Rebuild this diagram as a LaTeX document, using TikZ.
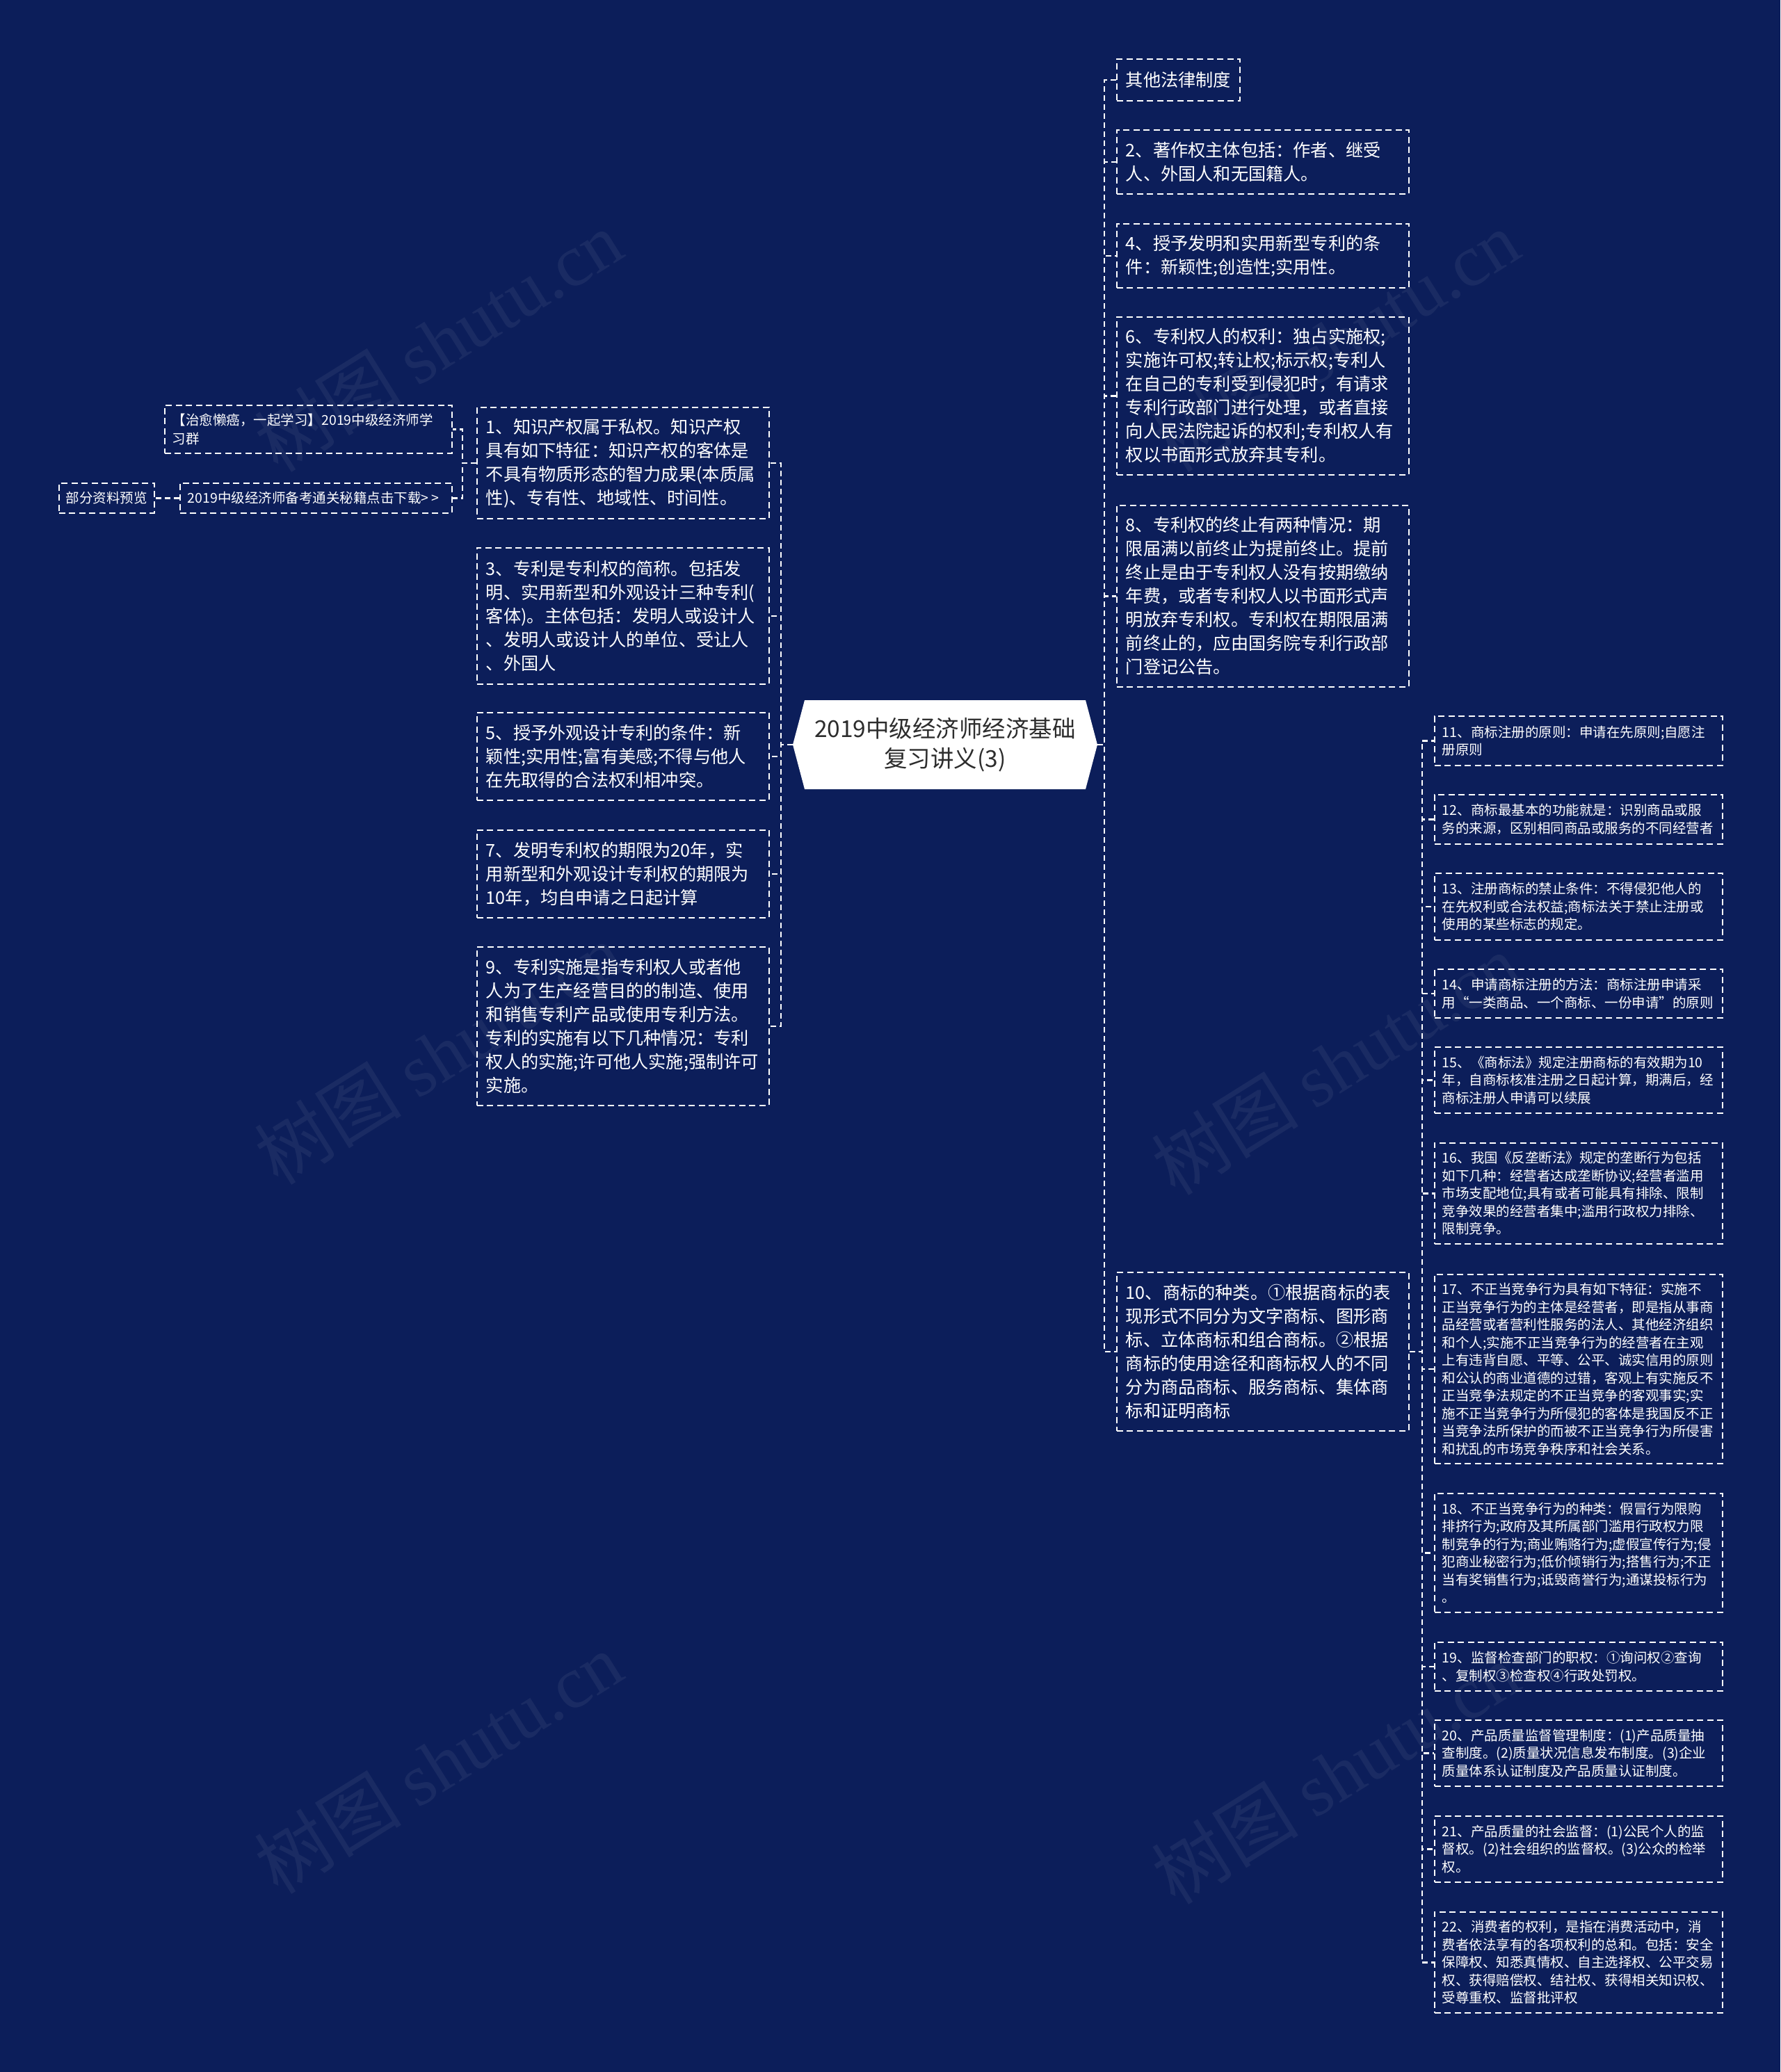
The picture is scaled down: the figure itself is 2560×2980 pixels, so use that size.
\documentclass[tikz,border=0pt]{standalone}
\usepackage{fontspec}
\setmainfont{Noto Sans CJK SC}
\newfontfamily\wmserif{Liberation Serif}
\definecolor{bg}{RGB}{12,30,90}
\definecolor{roottext}{RGB}{45,45,45}
\tikzset{
  boxbase/.style={rectangle, draw=white, line width=1.8pt, dash pattern=on 9pt off 5.5pt, text=white, align=left, anchor=north west, inner ysep=0pt},
  bigbox/.style={boxbase, inner xsep=13pt, font=\fontsize{25.2pt}{34pt}\selectfont},
  bigtext/.style={bigbox, text width=394pt},
  smallbox/.style={boxbase, inner xsep=11pt, font=\fontsize{19.5pt}{25.5pt}\selectfont},
  smalltext/.style={smallbox, text width=392pt},
  conn/.style={draw=white, line width=2.4pt, dash pattern=on 8pt off 5pt},
  wm/.style={text=white, opacity=0.06, rotate=32, font=\fontsize{106pt}{106pt}\selectfont},
}
\begin{document}
\begin{tikzpicture}[x=1pt, y=-1pt]
\fill[bg] (0,0) rectangle (2560,2980);
\useasboundingbox (0,0) rectangle (2560,2980);

% watermarks
\foreach \wx/\wy [count=\i] in {630/490, 1920/490, 630/1515, 1920/1530, 630/2535, 1920/2550}{
  \node[wm] (wm\i) at (\wx,\wy) {树图 {\wmserif shutu.cn}};
}

% root
\begin{scope}[shift={(1359,1071)}]
  \fill[white] (-219,0) -- (-202,-64) -- (202,-64) -- (219,0) -- (202,64) -- (-202,64) -- cycle;
\end{scope}
\node[minimum width=438pt, minimum height=128pt, inner sep=0pt, align=center, text=roottext, font=\fontsize{33.5pt}{43pt}\selectfont] (root) at (1359,1071) {2019中级经济师经济基础\\复习讲义(3)};

% left level-1
\node[bigtext, minimum height=160pt] (L1) at (685,585) {1、知识产权属于私权。知识产权\\具有如下特征：知识产权的客体是\\不具有物质形态的智力成果(本质属\\性)、专有性、地域性、时间性。};
\node[bigtext, minimum height=196pt] (L3) at (685,787) {3、专利是专利权的简称。包括发\\明、实用新型和外观设计三种专利(\\客体)。主体包括：发明人或设计人\\、发明人或设计人的单位、受让人\\、外国人};
\node[bigtext, minimum height=126pt] (L5) at (685,1024) {5、授予外观设计专利的条件：新\\颖性;实用性;富有美感;不得与他人\\在先取得的合法权利相冲突。};
\node[bigtext, minimum height=126pt] (L7) at (685,1193) {7、发明专利权的期限为20年，实\\用新型和外观设计专利权的期限为\\10年，均自申请之日起计算};
\node[bigtext, minimum height=228pt] (L9) at (685,1361) {9、专利实施是指专利权人或者他\\人为了生产经营目的的制造、使用\\和销售专利产品或使用专利方法。\\专利的实施有以下几种情况：专利\\权人的实施;许可他人实施;强制许可\\实施。};

% far left
\node[smalltext, text width=391pt, minimum height=69pt, font=\fontsize{19.5pt}{27pt}\selectfont] (farA) at (236,582) {【治愈懒癌，一起学习】2019中级经济师学\\习群};
\node[smalltext, text width=369pt, minimum height=43pt] (farB) at (258,694) {2019中级经济师备考通关秘籍点击下载>\hspace{4pt}>};
\node[smallbox, inner xsep=10pt, minimum height=43pt] (farC) at (84,694) {部分资料预览};

% right level-1
\node[bigbox, minimum height=60pt] (R0) at (1605,84) {其他法律制度};
\node[bigtext, minimum height=92pt] (R2) at (1605,186) {2、著作权主体包括：作者、继受\\人、外国人和无国籍人。};
\node[bigtext, minimum height=92pt] (R4) at (1605,321) {4、授予发明和实用新型专利的条\\件：新颖性;创造性;实用性。};
\node[bigtext, minimum height=227pt] (R6) at (1605,455) {6、专利权人的权利：独占实施权;\\实施许可权;转让权;标示权;专利人\\在自己的专利受到侵犯时，有请求\\专利行政部门进行处理，或者直接\\向人民法院起诉的权利;专利权人有\\权以书面形式放弃其专利。};
\node[bigtext, minimum height=261pt] (R8) at (1605,726) {8、专利权的终止有两种情况：期\\限届满以前终止为提前终止。提前\\终止是由于专利权人没有按期缴纳\\年费，或者专利权人以书面形式声\\明放弃专利权。专利权在期限届满\\前终止的，应由国务院专利行政部\\门登记公告。};
\node[bigtext, minimum height=228pt] (R10) at (1605,1829) {10、商标的种类。①根据商标的表\\现形式不同分为文字商标、图形商\\标、立体商标和组合商标。②根据\\商标的使用途径和商标权人的不同\\分为商品商标、服务商标、集体商\\标和证明商标};

% right level-2
\node[smalltext, minimum height=71pt] (N11) at (2062,1029) {11、商标注册的原则：申请在先原则;自愿注\\册原则};
\node[smalltext, minimum height=71pt] (N12) at (2062,1142) {12、商标最基本的功能就是：识别商品或服\\务的来源，区别相同商品或服务的不同经营者};
\node[smalltext, minimum height=96pt] (N13) at (2062,1255) {13、注册商标的禁止条件：不得侵犯他人的\\在先权利或合法权益;商标法关于禁止注册或\\使用的某些标志的规定。};
\node[smalltext, minimum height=70pt] (N14) at (2062,1393) {14、申请商标注册的方法：商标注册申请采\\用“一类商品、一个商标、一份申请”的原则};
\node[smalltext, minimum height=95pt] (N15) at (2062,1505) {15、《商标法》规定注册商标的有效期为10\\年，自商标核准注册之日起计算，期满后，经\\商标注册人申请可以续展};
\node[smalltext, minimum height=145pt] (N16) at (2062,1643) {16、我国《反垄断法》规定的垄断行为包括\\如下几种：经营者达成垄断协议;经营者滥用\\市场支配地位;具有或者可能具有排除、限制\\竞争效果的经营者集中;滥用行政权力排除、\\限制竞争。};
\node[smalltext, minimum height=272pt] (N17) at (2062,1832) {17、不正当竞争行为具有如下特征：实施不\\正当竞争行为的主体是经营者，即是指从事商\\品经营或者营利性服务的法人、其他经济组织\\和个人;实施不正当竞争行为的经营者在主观\\上有违背自愿、平等、公平、诚实信用的原则\\和公认的商业道德的过错，客观上有实施反不\\正当竞争法规定的不正当竞争的客观事实;实\\施不正当竞争行为所侵犯的客体是我国反不正\\当竞争法所保护的而被不正当竞争行为所侵害\\和扰乱的市场竞争秩序和社会关系。};
\node[smalltext, minimum height=171pt] (N18) at (2062,2147) {18、不正当竞争行为的种类：假冒行为限购\\排挤行为;政府及其所属部门滥用行政权力限\\制竞争的行为;商业贿赂行为;虚假宣传行为;侵\\犯商业秘密行为;低价倾销行为;搭售行为;不正\\当有奖销售行为;诋毁商誉行为;通谋投标行为\\。};
\node[smalltext, minimum height=70pt] (N19) at (2062,2361) {19、监督检查部门的职权：①询问权②查询\\、复制权③检查权④行政处罚权。};
\node[smalltext, minimum height=95pt] (N20) at (2062,2473) {20、产品质量监督管理制度：(1)产品质量抽\\查制度。(2)质量状况信息发布制度。(3)企业\\质量体系认证制度及产品质量认证制度。};
\node[smalltext, minimum height=95pt] (N21) at (2062,2611) {21、产品质量的社会监督：(1)公民个人的监\\督权。(2)社会组织的监督权。(3)公众的检举\\权。};
\node[smalltext, minimum height=145pt] (N22) at (2062,2749) {22、消费者的权利，是指在消费活动中，消\\费者依法享有的各项权利的总和。包括：安全\\保障权、知悉真情权、自主选择权、公平交易\\权、获得赔偿权、结社权、获得相关知识权、\\受尊重权、监督批评权};

% connectors: root to left
\foreach \c in {L1,L3,L5,L7,L9}{
  \draw[conn] (root.west) -- ++(-17,0) |- (\c.east);
}
% root to right
\foreach \c in {R0,R2,R4,R6,R8,R10}{
  \draw[conn] (root.east) -- ++(10,0) |- (\c.west);
}
% R10 to level-2
\foreach \c in {N11,N12,N13,N14,N15,N16,N17,N18,N19,N20,N21,N22}{
  \draw[conn] (R10.east) -- ++(18,0) |- (\c.west);
}
% L1 to far left
\foreach \c in {farA,farB}{
  \draw[conn] (L1.west) -- ++(-20,0) |- (\c.east);
}
\draw[conn] (farB.west) -- (farC.east);
\end{tikzpicture}
\end{document}
